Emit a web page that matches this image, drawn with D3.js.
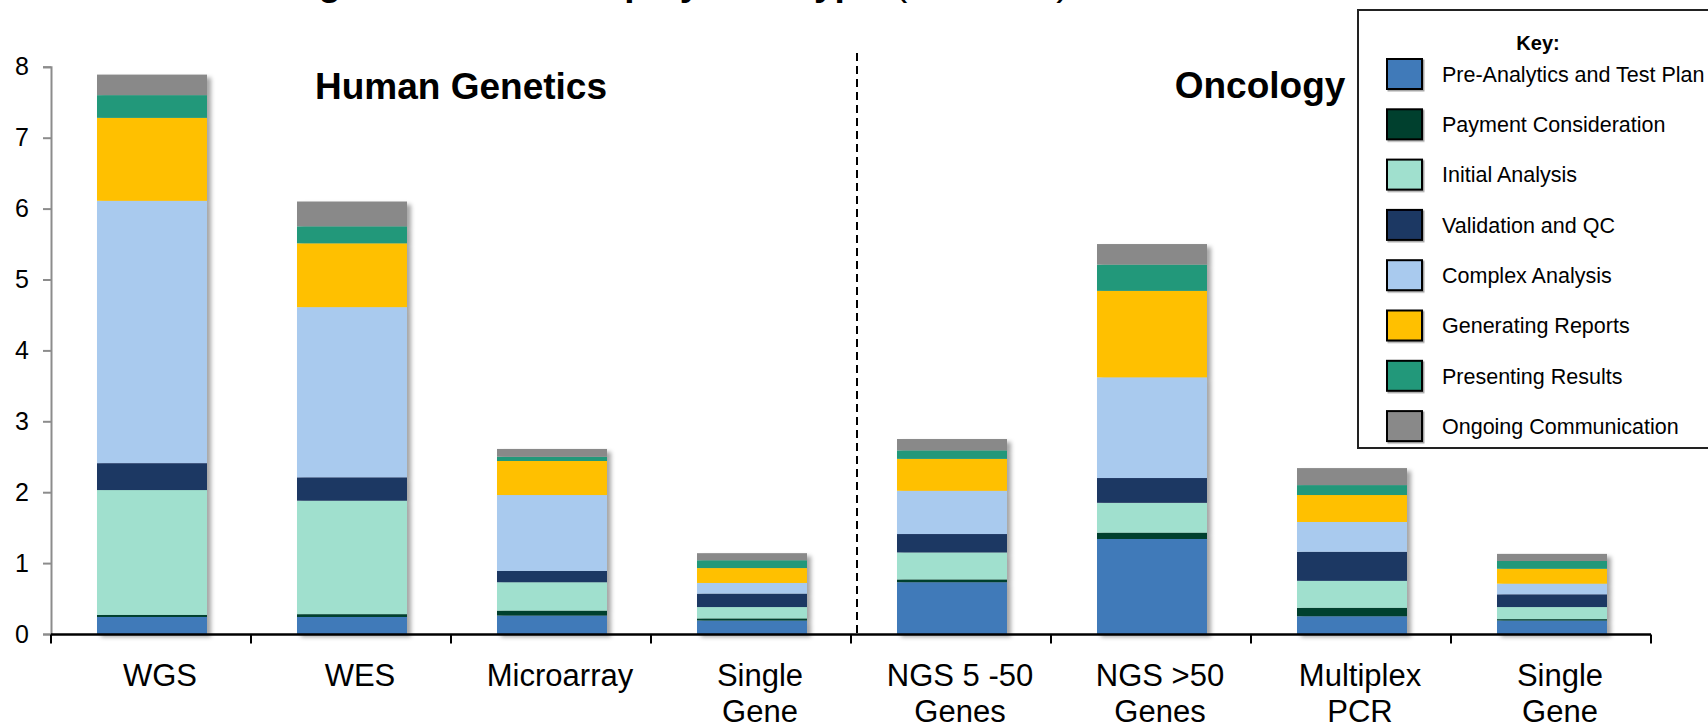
<!DOCTYPE html>
<html><head><meta charset="utf-8">
<script src="https://cdn.jsdelivr.net/npm/d3@7"></script>
<style>
html,body{margin:0;padding:0;background:#fff;overflow:hidden}
svg{display:block;font-family:"Liberation Sans",Arial,Helvetica,sans-serif}
</style>
</head><body>
<svg id="chart" width="1708" height="725"></svg>
<script>
// ---- data ----
const categories = ["WGS","WES","Microarray","Single Gene (HG)","NGS 5 -50 Genes","NGS >50 Genes","Multiplex PCR","Single Gene (Onc)"];
const categoryLabels = [["WGS"],["WES"],["Microarray"],["Single","Gene"],["NGS 5 -50","Genes"],["NGS >50","Genes"],["Multiplex","PCR"],["Single","Gene"]];
const seriesKeys = ["pre","pay","init","val","complex","reports","present","ongoing"];
const seriesNames = ["Pre-Analytics and Test Plan","Payment Consideration","Initial Analysis","Validation and QC","Complex Analysis","Generating Reports","Presenting Results","Ongoing Communication"];
const seriesColors = ["#417AB9","#00402F","#A0E0CE","#1F3864","#A9CAEE","#FFC000","#21987A","#898989"];
const preAnalytics    = [0.24,0.24,0.26,0.19,0.73,1.34,0.25,0.19];
const payment         = [0.03,0.04,0.07,0.03,0.04,0.09,0.12,0.02];
const initialAnalysis = [1.76,1.60,0.40,0.16,0.38,0.42,0.38,0.17];
const validation      = [0.38,0.33,0.16,0.19,0.26,0.35,0.41,0.18];
const complexAnalysis = [3.70,2.40,1.07,0.15,0.61,1.42,0.42,0.15];
const reports         = [1.17,0.90,0.48,0.21,0.45,1.22,0.38,0.21];
const presenting      = [0.32,0.24,0.06,0.11,0.12,0.37,0.14,0.11];
const ongoing         = [0.29,0.35,0.11,0.10,0.16,0.29,0.24,0.10];
const yTicks = [0,1,2,3,4,5,6,7,8];
const groupTitles = ["Human Genetics","Oncology"];
const chartTitleBold = "Average Time Each Step by Test Type ";
const chartTitleRest = "(in Hours)";

const seriesValues = [preAnalytics,payment,initialAnalysis,validation,complexAnalysis,reports,presenting,ongoing];
const table = categories.map((c,i)=>{
  const row = {cat:c};
  seriesKeys.forEach((k,j)=>row[k]=seriesValues[j][i]);
  return row;
});

// ---- layout ----
const svg = d3.select("#chart");
const defs = svg.append("defs");
const f = defs.append("filter").attr("id","shadow").attr("x","-10%").attr("y","-10%").attr("width","130%").attr("height","130%");
f.append("feDropShadow").attr("dx",4).attr("dy",3).attr("stdDeviation",2.2).attr("flood-color","#000").attr("flood-opacity",0.35);
const f2 = defs.append("filter").attr("id","sw").attr("x","-20%").attr("y","-20%").attr("width","150%").attr("height","150%");
f2.append("feDropShadow").attr("dx",1.5).attr("dy",1.5).attr("stdDeviation",0.6).attr("flood-color","#000").attr("flood-opacity",0.35);

const x = d3.scaleBand().domain(categories).range([51,1651]).padding(0);
const y = d3.scaleLinear().domain([0,8]).range([634,66.8]);
const barW = x.bandwidth()*0.55;

// title (cut off at top, as in the original)
const title = svg.append("text").attr("x",217).attr("y",-5).attr("font-size",37).attr("fill","#000");
title.append("tspan").attr("font-weight","bold").text(chartTitleBold);
title.append("tspan").attr("dx",6).attr("font-size",40).text(chartTitleRest);

// y axis
const yAxis = svg.append("g").attr("transform","translate(51,0)")
  .call(d3.axisLeft(y).tickValues(yTicks).tickFormat(d3.format("d")).tickSize(8).tickPadding(14));
yAxis.select(".domain").attr("stroke","#8c8c8c").attr("stroke-width",2);
yAxis.selectAll(".tick line").attr("stroke","#8c8c8c").attr("stroke-width",2);
yAxis.selectAll(".tick text").attr("font-size",25).attr("fill","#000").attr("font-family","Liberation Sans, Arial, sans-serif");

// bars
const stack = d3.stack().keys(seriesKeys)(table);
const groups = svg.append("g").selectAll("g.bar").data(categories).join("g").attr("class","bar").attr("filter","url(#shadow)");
groups.each(function(cat,i){
  const g = d3.select(this);
  stack.forEach((layer,j)=>{
    const d = layer[i];
    g.append("rect")
      .attr("x", x(cat)+x.bandwidth()/2 - barW/2 + 1)
      .attr("width", barW)
      .attr("y", y(d[1]))
      .attr("height", Math.max(0, y(d[0]) - y(d[1])))
      .attr("fill", seriesColors[j]);
  });
});

// x axis
const xAxisG = svg.append("g").attr("transform","translate(0,634.5)");
xAxisG.append("line").attr("x1",51).attr("x2",1651).attr("stroke","#000").attr("stroke-width",2.5);
const bounds = categories.map(c=>x(c)).concat([x.range()[1]]);
xAxisG.selectAll("line.tk").data(bounds).join("line").attr("class","tk")
  .attr("x1",d=>d).attr("x2",d=>d).attr("y1",0).attr("y2",9).attr("stroke","#000").attr("stroke-width",2);
const labels = svg.append("g").selectAll("text").data(categories).join("text")
  .attr("x",d=>x(d)+x.bandwidth()/2+9)
  .attr("y",686)
  .attr("text-anchor","middle")
  .attr("font-size",31)
  .attr("fill","#000");
labels.each(function(d,i){
  const t = d3.select(this);
  categoryLabels[i].forEach((line,k)=>{
    t.append("tspan").attr("x",x(d)+x.bandwidth()/2+9).attr("dy",k===0?0:36).text(line);
  });
});

// divider
const divX = x(categories[4]) + 6;
svg.append("line").attr("x1",divX).attr("x2",divX).attr("y1",53).attr("y2",633)
  .attr("stroke","#000").attr("stroke-width",2).attr("stroke-dasharray","8,5");

// group headings
svg.append("text").attr("x",461).attr("y",99).attr("text-anchor","middle").attr("font-size",37).attr("font-weight","bold").text(groupTitles[0]);
svg.append("text").attr("x",1260).attr("y",98).attr("text-anchor","middle").attr("font-size",37).attr("font-weight","bold").text(groupTitles[1]);

// legend
const lg = svg.append("g");
lg.append("rect").attr("x",1358).attr("y",10).attr("width",380).attr("height",438)
  .attr("fill","#fff").attr("stroke","#222").attr("stroke-width",2);
lg.append("text").attr("x",1538).attr("y",50).attr("text-anchor","middle").attr("font-size",20).attr("font-weight","bold").text("Key:");
const items = lg.selectAll("g.item").data(seriesNames).join("g").attr("class","item")
  .attr("transform",(d,i)=>`translate(1387,${59 + i*50.3})`);
items.append("rect").attr("width",35).attr("height",30).attr("fill",(d,i)=>seriesColors[i])
  .attr("stroke","#000").attr("stroke-width",2).attr("filter","url(#sw)");
items.append("text").attr("x",55).attr("y",15).attr("dy","0.36em").attr("font-size",21.5).attr("fill","#000").text(d=>d);
</script>
</body></html>
